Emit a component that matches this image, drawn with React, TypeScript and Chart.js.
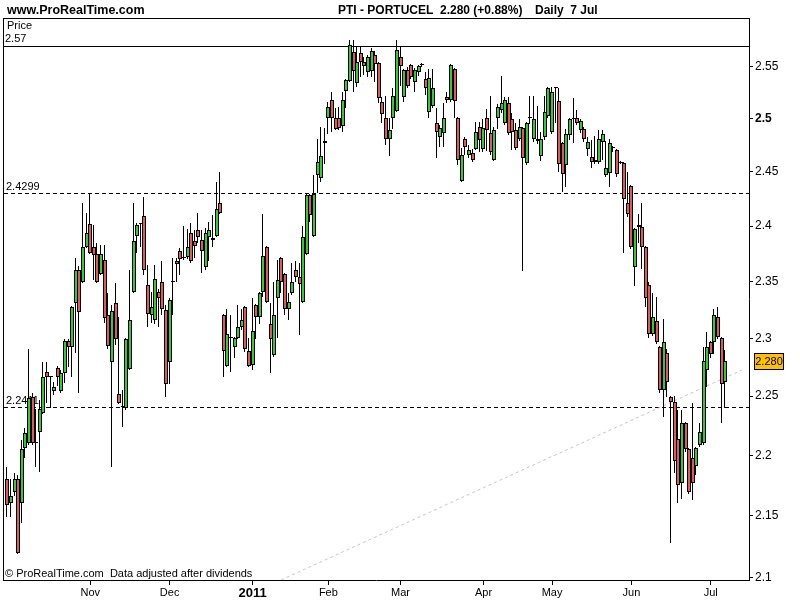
import React, { useEffect, useRef } from "react";
import { Chart, registerables } from "chart.js";

Chart.register(...registerables);

// Daily candles, PTI - PORTUCEL, end of Sep 2010 .. 7 Jul 2011 (200 sessions)
const opens = [
  2.180, 2.161, 2.170, 2.180, 2.161, 2.206, 2.210, 2.249, 2.210, 2.220,
  2.236, 2.271, 2.266, 2.254, 2.274, 2.254, 2.270, 2.298, 2.292, 2.331,
  2.360, 2.350, 2.381, 2.402, 2.381, 2.375, 2.357, 2.369, 2.320, 2.279,
  2.331, 2.252, 2.241, 2.240, 2.273, 2.341, 2.391, 2.402, 2.409, 2.347,
  2.320, 2.316, 2.341, 2.350, 2.325, 2.279, 2.350, 2.368, 2.377, 2.371,
  2.372, 2.394, 2.386, 2.396, 2.387, 2.363, 2.390, 2.387, 2.391, 2.421,
  2.320, 2.276, 2.300, 2.292, 2.300, 2.310, 2.327, 2.289, 2.277, 2.329,
  2.319, 2.341, 2.381, 2.312, 2.285, 2.335, 2.371, 2.357, 2.326, 2.340,
  2.360, 2.354, 2.332, 2.375, 2.428, 2.391, 2.447, 2.444, 2.477, 2.500,
  2.518, 2.500, 2.500, 2.493, 2.526, 2.536, 2.564, 2.534, 2.563, 2.554,
  2.544, 2.545, 2.561, 2.553, 2.516, 2.500, 2.481, 2.500, 2.507, 2.559,
  2.520, 2.546, 2.551, 2.535, 2.544, 2.551, 2.538, 2.506, 2.512, 2.496,
  2.482, 2.486, 2.520, 2.518, 2.547, 2.500, 2.441, 2.481, 2.466, 2.467,
  2.471, 2.492, 2.471, 2.500, 2.486, 2.461, 2.500, 2.508, 2.496, 2.515,
  2.499, 2.489, 2.481, 2.491, 2.458, 2.500, 2.481, 2.481, 2.465, 2.482,
  2.502, 2.487, 2.529, 2.517, 2.477, 2.456, 2.484, 2.499, 2.500, 2.489,
  2.490, 2.471, 2.464, 2.461, 2.459, 2.478, 2.447, 2.449, 2.472, 2.470,
  2.459, 2.458, 2.421, 2.437, 2.363, 2.399, 2.399, 2.381, 2.347, 2.304,
  2.315, 2.292, 2.255, 2.287, 2.249, 2.245, 2.214, 2.177, 2.227, 2.205,
  2.198, 2.191, 2.209, 2.210, 2.272, 2.297, 2.297, 2.319, 2.300, 2.262,
];

const highs = [
  2.190, 2.180, 2.185, 2.184, 2.213, 2.223, 2.291, 2.253, 2.239, 2.247,
  2.279, 2.279, 2.267, 2.262, 2.276, 2.272, 2.299, 2.299, 2.328, 2.371,
  2.364, 2.421, 2.412, 2.430, 2.401, 2.385, 2.383, 2.383, 2.340, 2.329,
  2.349, 2.319, 2.255, 2.300, 2.360, 2.421, 2.403, 2.403, 2.427, 2.365,
  2.341, 2.365, 2.343, 2.368, 2.329, 2.335, 2.371, 2.371, 2.380, 2.400,
  2.397, 2.403, 2.396, 2.412, 2.396, 2.398, 2.404, 2.410, 2.440, 2.450,
  2.321, 2.326, 2.320, 2.301, 2.329, 2.326, 2.328, 2.300, 2.335, 2.330,
  2.341, 2.411, 2.382, 2.331, 2.350, 2.369, 2.372, 2.358, 2.340, 2.367,
  2.368, 2.367, 2.400, 2.429, 2.429, 2.447, 2.481, 2.492, 2.491, 2.516,
  2.525, 2.510, 2.511, 2.525, 2.538, 2.576, 2.576, 2.570, 2.570, 2.559,
  2.561, 2.568, 2.565, 2.554, 2.520, 2.521, 2.500, 2.529, 2.576, 2.570,
  2.547, 2.549, 2.552, 2.548, 2.551, 2.553, 2.544, 2.547, 2.547, 2.510,
  2.494, 2.515, 2.525, 2.552, 2.548, 2.501, 2.472, 2.482, 2.475, 2.471,
  2.497, 2.497, 2.499, 2.509, 2.521, 2.492, 2.514, 2.541, 2.520, 2.520,
  2.505, 2.496, 2.499, 2.492, 2.497, 2.521, 2.521, 2.512, 2.487, 2.521,
  2.530, 2.530, 2.530, 2.529, 2.478, 2.490, 2.500, 2.519, 2.508, 2.499,
  2.492, 2.482, 2.480, 2.483, 2.489, 2.489, 2.479, 2.481, 2.474, 2.471,
  2.460, 2.459, 2.450, 2.438, 2.398, 2.411, 2.421, 2.382, 2.350, 2.340,
  2.336, 2.293, 2.317, 2.291, 2.250, 2.250, 2.238, 2.238, 2.228, 2.206,
  2.244, 2.207, 2.227, 2.292, 2.305, 2.298, 2.326, 2.327, 2.301, 2.290,
];

const lows = [
  2.149, 2.149, 2.166, 2.119, 2.144, 2.198, 2.209, 2.209, 2.190, 2.186,
  2.235, 2.244, 2.240, 2.251, 2.259, 2.253, 2.261, 2.275, 2.266, 2.287,
  2.253, 2.349, 2.380, 2.375, 2.351, 2.349, 2.356, 2.313, 2.291, 2.190,
  2.294, 2.243, 2.224, 2.238, 2.272, 2.340, 2.376, 2.381, 2.356, 2.310,
  2.313, 2.312, 2.310, 2.320, 2.249, 2.260, 2.320, 2.350, 2.356, 2.369,
  2.370, 2.367, 2.371, 2.385, 2.358, 2.360, 2.368, 2.381, 2.390, 2.411,
  2.266, 2.275, 2.271, 2.283, 2.299, 2.307, 2.288, 2.275, 2.272, 2.299,
  2.312, 2.336, 2.331, 2.270, 2.284, 2.300, 2.340, 2.320, 2.316, 2.338,
  2.350, 2.303, 2.331, 2.374, 2.404, 2.390, 2.430, 2.440, 2.457, 2.485,
  2.487, 2.489, 2.489, 2.487, 2.510, 2.535, 2.525, 2.530, 2.540, 2.542,
  2.540, 2.540, 2.535, 2.515, 2.496, 2.475, 2.465, 2.490, 2.506, 2.531,
  2.516, 2.529, 2.538, 2.525, 2.541, 2.549, 2.522, 2.500, 2.510, 2.463,
  2.473, 2.473, 2.515, 2.516, 2.500, 2.456, 2.440, 2.466, 2.463, 2.459,
  2.470, 2.468, 2.468, 2.469, 2.466, 2.460, 2.490, 2.505, 2.494, 2.484,
  2.470, 2.470, 2.479, 2.359, 2.456, 2.495, 2.478, 2.476, 2.460, 2.480,
  2.500, 2.485, 2.496, 2.450, 2.431, 2.436, 2.480, 2.477, 2.494, 2.486,
  2.478, 2.465, 2.453, 2.457, 2.457, 2.461, 2.445, 2.436, 2.468, 2.445,
  2.457, 2.376, 2.408, 2.379, 2.346, 2.385, 2.361, 2.327, 2.300, 2.302,
  2.295, 2.253, 2.232, 2.249, 2.128, 2.185, 2.161, 2.164, 2.203, 2.168,
  2.163, 2.184, 2.207, 2.209, 2.258, 2.283, 2.286, 2.299, 2.227, 2.240,
];

const closes = [
  2.159, 2.166, 2.180, 2.120, 2.205, 2.219, 2.248, 2.210, 2.210, 2.239,
  2.266, 2.266, 2.266, 2.258, 2.266, 2.270, 2.298, 2.292, 2.327, 2.360,
  2.323, 2.381, 2.394, 2.376, 2.374, 2.350, 2.375, 2.318, 2.293, 2.324,
  2.299, 2.244, 2.241, 2.299, 2.316, 2.386, 2.401, 2.402, 2.360, 2.321,
  2.327, 2.352, 2.335, 2.326, 2.260, 2.334, 2.350, 2.366, 2.370, 2.372,
  2.381, 2.368, 2.382, 2.390, 2.377, 2.394, 2.396, 2.389, 2.416, 2.412,
  2.289, 2.304, 2.300, 2.300, 2.310, 2.316, 2.291, 2.276, 2.306, 2.319,
  2.340, 2.373, 2.332, 2.299, 2.320, 2.351, 2.350, 2.326, 2.332, 2.350,
  2.354, 2.348, 2.390, 2.428, 2.410, 2.429, 2.459, 2.465, 2.479, 2.511,
  2.500, 2.490, 2.491, 2.518, 2.537, 2.571, 2.545, 2.554, 2.554, 2.550,
  2.559, 2.565, 2.552, 2.519, 2.504, 2.481, 2.489, 2.521, 2.566, 2.550,
  2.546, 2.531, 2.540, 2.546, 2.550, 2.551, 2.529, 2.539, 2.529, 2.487,
  2.491, 2.500, 2.518, 2.551, 2.517, 2.461, 2.466, 2.473, 2.470, 2.461,
  2.487, 2.480, 2.491, 2.489, 2.468, 2.489, 2.511, 2.515, 2.518, 2.486,
  2.487, 2.472, 2.492, 2.463, 2.496, 2.500, 2.499, 2.479, 2.481, 2.506,
  2.529, 2.525, 2.529, 2.457, 2.448, 2.485, 2.499, 2.500, 2.496, 2.498,
  2.481, 2.478, 2.459, 2.459, 2.481, 2.485, 2.453, 2.477, 2.472, 2.448,
  2.458, 2.425, 2.411, 2.381, 2.397, 2.401, 2.381, 2.335, 2.304, 2.319,
  2.297, 2.255, 2.297, 2.262, 2.245, 2.195, 2.175, 2.227, 2.205, 2.170,
  2.177, 2.206, 2.220, 2.280, 2.292, 2.286, 2.320, 2.301, 2.260, 2.280,
];

// Month ticks (session index of first trading day of the month)
const monthTickIndex = [23, 45, 68, 89, 109, 132, 151, 173, 195];
const monthTickLabels = ["Nov", "Dec", "2011", "Feb", "Mar", "Apr", "May", "Jun", "Jul"];
const yearTickLabel = "2011";

// Price axis ticks
const priceTicks = [2.1, 2.15, 2.2, 2.25, 2.3, 2.35, 2.4, 2.45, 2.5, 2.55];
const boldPriceTick = 2.5;

// Horizontal levels
const solidLevel = 2.57;
const solidLevelLabel = "2.57";
const dashedLevels = [2.4299, 2.2411];
const dashedLevelLabels = ["2.4299", "2.2411"];

// Grey dotted trend line (session index, price)
const trendX = [75.9, 203.6];
const trendY = [2.0984, 2.2724];

const lastPrice = 2.28;
const titleName = "PTI - PORTUCEL";
const titleChange = "2.280 (+0.88%)";
const titlePeriod = "Daily  7 Jul";
const siteName = "www.ProRealTime.com";
const footer = "\u00A9 ProRealTime.com  Data adjusted after dividends";

const Y_MIN = 2.0984;
const Y_MAX = 2.5971;
const X_MIN = -1.19;
const X_MAX = 205.6;

const GREEN = "#33cc33";
const RED = "#e05a5a";
const FONT = "'Liberation Sans', Arial, Helvetica, sans-serif";

export default function App() {
  const ref = useRef<HTMLCanvasElement | null>(null);

  useEffect(() => {
    const canvas = ref.current;
    if (!canvas) return;
    const idx = opens.map((_, i) => i);
    const bodyData = idx.map((i) => ({ x: i, y: [opens[i], closes[i]] }));
    const wickData = idx.map((i) => ({ x: i, y: [lows[i], highs[i]] }));
    const bodyColors = idx.map((i) =>
      closes[i] > opens[i] ? GREEN : closes[i] < opens[i] ? RED : "#000000"
    );
    const trendData = trendX.map((x, i) => ({ x, y: trendY[i] }));

    // Snap candle elements (computed by the scales) to whole pixels for crisp bars
    const pixelSnap = {
      id: "pixelSnap",
      beforeDatasetsDraw(chart: any) {
        [0, 1].forEach((di) => {
          const meta = chart.getDatasetMeta(di);
          meta.data.forEach((el: any) => {
            const r = Math.round(el.x);
            el.x = di === 0 ? r : r - 0.5;
            let top = Math.round(Math.min(el.y, el.base));
            let bottom = Math.round(Math.max(el.y, el.base));
            if (bottom - top < 1) bottom = top + 1;
            el.y = top;
            el.base = bottom;
          });
        });
      },
    };

    const decorations = {
      id: "decorations",
      beforeDatasetsDraw(chart: any) {
        const { ctx, chartArea } = chart;
        const y = chart.scales.y;
        ctx.save();
        ctx.strokeStyle = "#000";
        ctx.lineWidth = 1;
        ctx.beginPath();
        ctx.moveTo(chartArea.left, 18.5);
        ctx.lineTo(chartArea.right, 18.5);
        ctx.moveTo(chartArea.left + 0.5, 18);
        ctx.lineTo(chartArea.left + 0.5, chartArea.bottom);
        ctx.stroke();
        const ys = Math.round(y.getPixelForValue(solidLevel)) + 0.5;
        ctx.beginPath();
        ctx.moveTo(chartArea.left, ys);
        ctx.lineTo(chartArea.right, ys);
        ctx.stroke();
        ctx.setLineDash([4, 3]);
        dashedLevels.forEach((lv) => {
          const yy = Math.round(y.getPixelForValue(lv)) + 0.5;
          ctx.beginPath();
          ctx.moveTo(chartArea.left + 1, yy);
          ctx.lineTo(chartArea.right, yy);
          ctx.stroke();
        });
        ctx.setLineDash([]);
        ctx.fillStyle = "#000";
        ctx.font = `11px ${FONT}`;
        ctx.textBaseline = "alphabetic";
        ctx.textAlign = "left";
        ctx.fillText("Price", 7, 29);
        ctx.fillText(solidLevelLabel, 5, 42);
        dashedLevels.forEach((lv, i) => {
          const yy = Math.round(y.getPixelForValue(lv));
          ctx.fillText(dashedLevelLabels[i], 6, yy - 3);
        });
        ctx.restore();
      },
      afterDraw(chart: any) {
        const { ctx } = chart;
        const y = chart.scales.y;
        ctx.save();
        ctx.fillStyle = "#000";
        ctx.textAlign = "left";
        ctx.textBaseline = "alphabetic";
        ctx.font = `bold 12.5px ${FONT}`;
        ctx.fillText(siteName, 7, 14);
        ctx.font = `bold 12px ${FONT}`;
        ctx.fillText(titleName, 338, 14);
        ctx.fillText(titleChange, 440, 14);
        ctx.fillText(titlePeriod, 535, 14);
        ctx.font = `11px ${FONT}`;
        ctx.fillText(footer, 5, 577);
        const py = Math.round(y.getPixelForValue(lastPrice));
        ctx.fillStyle = "#ffc000";
        ctx.fillRect(754, py - 8, 30, 17);
        ctx.strokeStyle = "#000";
        ctx.lineWidth = 1;
        ctx.strokeRect(754.5, py - 7.5, 29, 16);
        ctx.fillStyle = "#000";
        ctx.font = `11px ${FONT}`;
        ctx.textBaseline = "middle";
        ctx.textAlign = "center";
        ctx.fillText(lastPrice.toFixed(3), 769, py + 1);
        ctx.restore();
      },
    };

    const chart = new Chart(canvas, {
      type: "bar",
      data: {
        datasets: [
          {
            type: "bar",
            label: "body",
            data: bodyData as any,
            backgroundColor: bodyColors,
            borderColor: "#000000",
            borderWidth: 1,
            borderSkipped: false,
            barThickness: 4,
            minBarLength: 1,
            grouped: false,
            inflateAmount: 0,
            order: 0,
          } as any,
          {
            type: "bar",
            label: "wick",
            data: wickData as any,
            backgroundColor: "#000000",
            borderWidth: 0,
            barThickness: 1,
            grouped: false,
            inflateAmount: 0,
            order: 1,
          } as any,
          {
            type: "line",
            label: "trend",
            data: trendData as any,
            borderColor: "#c4c4c4",
            borderWidth: 1,
            borderDash: [3, 3],
            pointRadius: 0,
            fill: false,
            order: 2,
          } as any,
        ],
      },
      options: {
        animation: false,
        responsive: false,
        devicePixelRatio: 1,
        layout: { padding: { left: 3, top: 18, right: 0, bottom: 0 } },
        plugins: {
          legend: { display: false },
          tooltip: { enabled: false },
          title: { display: false },
        },
        scales: {
          x: {
            type: "linear",
            position: "bottom",
            min: X_MIN,
            max: X_MAX,
            offset: false,
            grid: {
              display: true,
              drawOnChartArea: false,
              drawTicks: true,
              tickLength: 5,
              tickColor: "#000",
              offset: false,
            },
            border: { display: true, color: "#000", width: 1 },
            afterBuildTicks: (scale: any) => {
              scale.ticks = monthTickIndex.map((v) => ({ value: v }));
            },
            afterFit: (scale: any) => {
              scale.height = 20;
            },
            ticks: {
              autoSkip: false,
              maxRotation: 0,
              padding: 1,
              color: "#000",
              callback: (_v: any, i: number) => monthTickLabels[i],
              font: (ctx: any) => {
                const isYear = ctx.index !== undefined && monthTickLabels[ctx.index] === yearTickLabel;
                return isYear
                  ? { family: FONT, size: 13, weight: "bold" }
                  : { family: FONT, size: 11, weight: "normal" };
              },
            },
          } as any,
          y: {
            type: "logarithmic",
            position: "right",
            min: Y_MIN,
            max: Y_MAX,
            grid: {
              display: true,
              drawOnChartArea: false,
              drawTicks: true,
              tickLength: 4,
              tickColor: "#000",
            },
            border: { display: true, color: "#000", width: 1 },
            afterBuildTicks: (scale: any) => {
              scale.ticks = priceTicks.map((v) => ({ value: v }));
            },
            afterFit: (scale: any) => {
              scale.width = 51;
            },
            ticks: {
              autoSkip: false,
              padding: 2,
              color: "#000",
              callback: (v: any) => String(Number(v)),
              font: (ctx: any) => {
                const isBold = ctx.tick && ctx.tick.value === boldPriceTick;
                return isBold
                  ? { family: FONT, size: 12, weight: "bold" }
                  : { family: FONT, size: 12, weight: "normal" };
              },
            },
          } as any,
        },
      },
      plugins: [pixelSnap, decorations],
    });

    return () => chart.destroy();
  }, []);

  return (
    <div style={{ position: "absolute", left: 0, top: 0, width: 800, height: 600, background: "#fff" }}>
      <canvas ref={ref} width={800} height={600} style={{ display: "block" }} />
    </div>
  );
}
